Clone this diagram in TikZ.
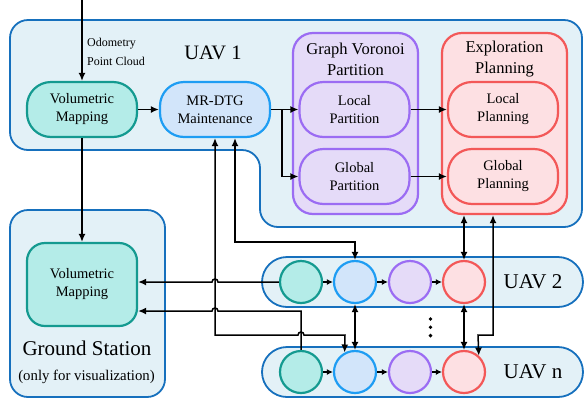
\documentclass[tikz,border=0pt]{standalone}
\usepackage{fontspec}
\setmainfont{Liberation Serif}
\usetikzlibrary{arrows.meta}
\definecolor{contF}{HTML}{E3F1F7}
\definecolor{contB}{HTML}{1670BD}
\definecolor{tealF}{HTML}{B4ECE8}
\definecolor{tealB}{HTML}{149A90}
\definecolor{blueF}{HTML}{D2E5FA}
\definecolor{blueB}{HTML}{1E9DF3}
\definecolor{purF}{HTML}{E5DBF8}
\definecolor{purB}{HTML}{9B6CF3}
\definecolor{redF}{HTML}{FDE0E3}
\definecolor{redB}{HTML}{F35858}
\newcommand\fsz[2]{\fontsize{#1}{#2}\selectfont}
\begin{document}
\begin{tikzpicture}[x=1pt,y=-1pt,
  cont/.style={draw=contB, fill=contF, line width=1.8pt, rounded corners=18pt},
  box/.style={rectangle, rounded corners=24pt, minimum width=110pt, minimum height=55pt, inner sep=0pt, align=center, line width=2.2pt, font=\fsz{14.5}{18}},
  tealbox/.style={box, draw=tealB, fill=tealF},
  bluebox/.style={box, draw=blueB, fill=blueF},
  purbox/.style={box, draw=purB, fill=purF},
  redbox/.style={box, draw=redB, fill=redF},
  grp/.style={rectangle, rounded corners=20pt, minimum width=125pt, minimum height=181pt, line width=2.2pt},
  circ/.style={circle, minimum size=42pt, inner sep=0pt, line width=2.2pt},
  rowbox/.style={cont, rectangle, rounded corners=25pt, minimum width=321pt, minimum height=50pt},
  arr/.style={-{Latex[length=8pt,width=7pt]}, line width=1.5pt},
  darr/.style={{Latex[length=8pt,width=7pt]}-{Latex[length=8pt,width=7pt]}, line width=1.5pt},
  sarr/.style={-{Latex[length=6pt,width=6pt]}, line width=1.5pt},
  lbl/.style={inner sep=0pt, align=center},
  dotc/.style={circle, fill=black, inner sep=0pt, minimum size=3.8pt}
]
\useasboundingbox (0,0) rectangle (584,400);

% containers
\draw[cont] (10,20) -- (582,20) -- (582,227) -- (260,227) -- (260,150) -- (10,150) -- cycle;
\node[cont, rectangle, rounded corners=18pt, minimum width=155pt, minimum height=187pt] (gs) at (87.5,303.5) {};
\node[rowbox] (row2) at (422.5,282) {};
\node[rowbox] (rown) at (422.5,372) {};

% groups
\node[grp, draw=purB, fill=purF] (gv) at (355.5,123.5) {};
\node[grp, draw=redB, fill=redF] (ep) at (504.5,123.5) {};
\node[lbl, font=\fsz{16.5}{21}] (gvt) at (355.5,59.5) {Graph Voronoi\\Partition};
\node[lbl, font=\fsz{16.5}{21}] (ept) at (504.5,59.5) {Exploration\\Planning};

% UAV 1 nodes
\node[tealbox] (vm1) at (82,109.5) {Volumetric\\Mapping};
\node[bluebox] (mr) at (215,109.5) {MR-DTG\\Maintenance};
\node[purbox] (lp) at (354.5,109.5) {Local\\Partition};
\node[purbox] (gp) at (354.5,176.5) {Global\\Partition};
\node[redbox] (lpl) at (503,109.5) {Local\\Planning};
\node[redbox] (gpl) at (503,176.5) {Global\\Planning};

\node[lbl, anchor=west, align=left, font=\fsz{12}{19}] (odo) at (87,51.5) {Odometry\\Point Cloud};
\node[lbl, font=\fsz{20.5}{24}] (u1) at (213,53) {UAV 1};

% ground station
\node[tealbox, rounded corners=18pt, minimum height=83pt] (vmg) at (82,284.5) {Volumetric\\Mapping};
\node[lbl, font=\fsz{21}{24}] (gst) at (87,348) {Ground Station};
\node[lbl, font=\fsz{14.8}{18}] (gsn) at (86.5,377) {(only for visualization)};

% UAV rows
\node[circ, draw=tealB, fill=tealF] (t2) at (301,282) {};
\node[circ, draw=blueB, fill=blueF] (b2) at (355,282) {};
\node[circ, draw=purB, fill=purF] (p2) at (410,282) {};
\node[circ, draw=redB, fill=redF] (r2) at (464,282) {};
\node[circ, draw=tealB, fill=tealF] (tn) at (301,372) {};
\node[circ, draw=blueB, fill=blueF] (bn) at (355,372) {};
\node[circ, draw=purB, fill=purF] (pn) at (410,372) {};
\node[circ, draw=redB, fill=redF] (rn) at (464,372) {};
\node[lbl, font=\fsz{21}{24}] (u2) at (533,282) {UAV 2};
\node[lbl, font=\fsz{21}{24}] (un) at (533,372) {UAV n};
\node[dotc] (d1) at (430.5,319) {};
\node[dotc] (d2) at (430.5,327.3) {};
\node[dotc] (d3) at (430.5,335.6) {};

% connectors
\coordinate (in) at (82,0);
\draw[arr] (in) -- (vm1.north);
\draw[arr] (vm1.east) -- (mr.west);
\draw[arr] (mr.east) -- (lp.west);
\coordinate (br) at (282,109.5);
\draw[arr] (br) |- (gp.west);
\draw[arr] (lp.east) -- (lpl.west);
\draw[arr] (gp.east) -- (gpl.west);
\draw[arr] (vm1.south) -- (vmg.north);

\foreach \a/\b in {t2/b2,b2/p2,p2/r2,tn/bn,bn/pn,pn/rn}
  \draw[sarr] (\a.east) -- (\b.west);

\draw[darr] (b2.south) -- (bn.north);
\draw[darr] (r2.south) -- (rn.north);
\draw[darr] (ep.south -| r2.north) -- (r2.north);
\draw[darr] (ep.south -| 493,0) -- (493,335) -- (478,335) -- (rn.48);

\draw[darr] (mr.south -| 235,0) -- (235,242) -| (b2.north);
\draw[darr] (mr.south) -- (215,335) -- (298,335) .. controls (298,331) and (304,331) .. (304,335) -- (345,335) -- (bn.118);

\draw[arr] (t2.west) -- (218,282) .. controls (218,278) and (212,278) .. (212,282) -- (vmg.east |- t2.west);
\draw[arr] (tn.north) -- (301,311) -- (218,311) .. controls (218,307) and (212,307) .. (212,311) -- (vmg.east |- 0,311);
\end{tikzpicture}
\end{document}
